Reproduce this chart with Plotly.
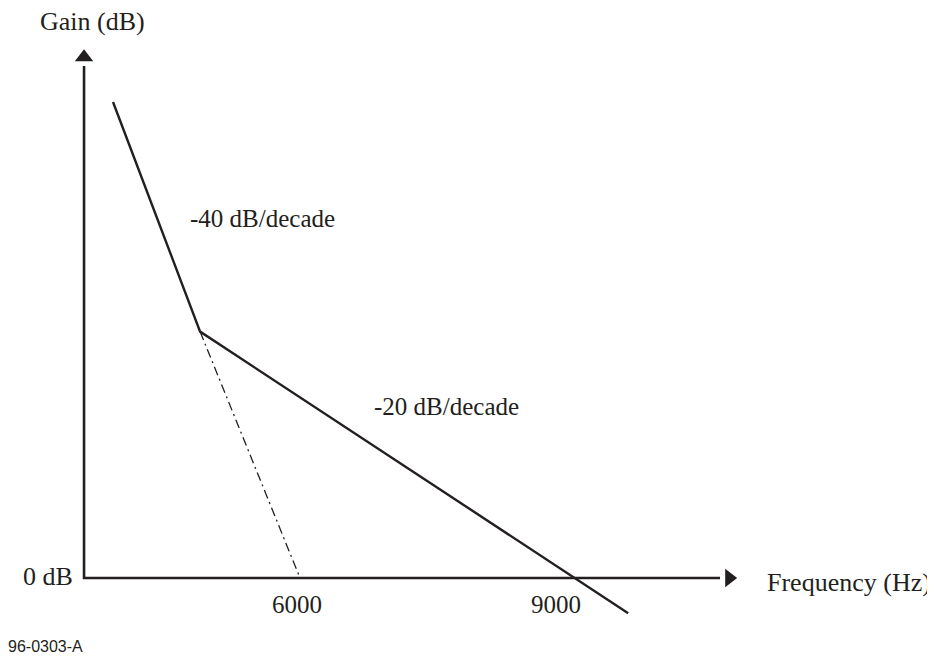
import plotly.graph_objects as go

# schematic Bode asymptotes (frequency in Hz, gain in dB)
asym_freq = [3960, 4910, 9580]
asym_gain = [59.5, 30.8, -4.4]

# -40 dB/decade extension down to 0 dB
ext_freq = [4910, 6000]
ext_gain = [30.8, 0]

# axes
axis_origin = [3644, 0]
x_axis_end = 10582
y_axis_end = 64.0

tick_freqs = [5970, 8790]
tick_text = ["6000", "9000"]

slope_labels = ["-40 dB/decade", "-20 dB/decade"]
slope_pos = [(4778, 45.0), (6785, 21.4)]

SERIF = "Liberation Serif, Times New Roman, serif"
INK = "#231f20"

fig = go.Figure()

# axes lines
fig.add_trace(go.Scatter(x=[axis_origin[0], axis_origin[0], x_axis_end],
                         y=[y_axis_end, 0, 0], mode="lines",
                         line=dict(color=INK, width=2.6), hoverinfo="skip"))
# arrowheads
fig.add_trace(go.Scatter(x=[axis_origin[0]], y=[y_axis_end + 1.1], mode="markers",
                         marker=dict(symbol="triangle-up", size=16, color=INK),
                         hoverinfo="skip"))
fig.add_trace(go.Scatter(x=[x_axis_end + 100], y=[0], mode="markers",
                         marker=dict(symbol="triangle-right", size=16, color=INK),
                         hoverinfo="skip"))

# dash-dot extension
fig.add_trace(go.Scatter(x=ext_freq, y=ext_gain, mode="lines",
                         line=dict(color=INK, width=1.3, dash="9px,4px,2px,4px"),
                         hoverinfo="skip"))
# asymptote
fig.add_trace(go.Scatter(x=asym_freq, y=asym_gain, mode="lines",
                         line=dict(color=INK, width=2.4), hoverinfo="skip"))

ann = []
ann.append(dict(x=3731, y=69.6, text="Gain (dB)", xanchor="center", yanchor="middle", size=26))
ann.append(dict(x=3545, y=0.2, text="0 dB", xanchor="right", yanchor="middle", size=26))
for f, t in zip(tick_freqs, tick_text):
    ann.append(dict(x=f, y=-3.3, text=t, xanchor="center", yanchor="middle", size=25))
ann.append(dict(x=11073, y=-0.5, text="Frequency (Hz)", xanchor="left", yanchor="middle", size=26))
for t, (fx, gy) in zip(slope_labels, slope_pos):
    ann.append(dict(x=fx, y=gy, text=t, xanchor="left", yanchor="middle", size=25))
for a in ann:
    sz = a.pop("size")
    a.update(showarrow=False, xref="x", yref="y",
             font=dict(family=SERIF, size=sz, color=INK))
ann.append(dict(x=2815, y=-8.6, text="96-0303-A", xanchor="left", yanchor="middle",
                showarrow=False, xref="x", yref="y", xshift=-2,
                font=dict(family="Liberation Sans, Arial, sans-serif", size=16, color=INK)))

# page body keeps an 8px margin, so the figure is 8px smaller and its
# ranges start 8px in
fig.update_layout(
    width=927, height=649,
    margin=dict(l=0, r=0, t=0, b=0),
    paper_bgcolor="white", plot_bgcolor="white",
    showlegend=False,
    annotations=ann,
    xaxis=dict(range=[2814.5, 12927], visible=False, fixedrange=True),
    yaxis=dict(range=[-9.875, 71.25], visible=False, fixedrange=True),
)

fig.write_html("out.html")
